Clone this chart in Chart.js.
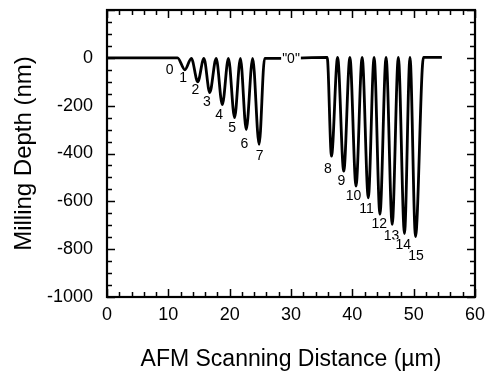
<!DOCTYPE html>
<html>
<head>
<meta charset="utf-8">
<script src="https://cdn.jsdelivr.net/npm/chart.js@4/dist/chart.umd.min.js"></script>
<style>
  html, body { margin: 0; padding: 0; background: #fff; }
  #wrap { width: 492px; height: 373px; }
</style>
</head>
<body>
<div id="wrap"><canvas id="c"></canvas></div>
<script>
// AFM profile (µm, nm)
const distance = [0, 11.5, 12.7, 13.75, 14.8, 15.8, 16.75, 17.8, 18.8, 19.8, 20.8, 21.75, 22.7, 23.75, 24.8, 25.7,
  28.5, 35.9, 36.6, 37.6, 38.6, 39.6, 40.6, 41.6, 42.6, 43.55, 44.5, 45.5, 46.5, 47.5, 48.5, 49.4, 50.3, 51.6, 54.6];
const depth = [0, 0, -50, -2, -100, -2, -145, -2, -196, -2, -250, -2, -300, -2, -362, -2,
  -2, 2, -411, 2, -474, 2, -536, 2, -585, 2, -654, 2, -696, 2, -735, 2, -747, 2, 2];

// dose labels next to each trench
const labelText = ['0', '1', '2', '3', '4', '5', '6', '7', '"0"', '8', '9', '10', '11', '12', '13', '14', '15'];
const labelX = [10.2, 12.4, 14.4, 16.3, 18.3, 20.4, 22.4, 24.9, 30.0, 36.0, 38.2, 40.2, 42.3, 44.4, 46.4, 48.3, 50.4];
const labelY = [-50, -85, -133, -186, -240, -293, -362, -411, -5, -467, -515, -578, -633, -696, -745, -783, -828];

const xTicks = [0, 10, 20, 30, 40, 50, 60];
const yTicks = [-1000, -800, -600, -400, -200, 0];

const FONT = '"Liberation Sans", Arial, Helvetica, sans-serif';

const points = distance.map((d, i) => ({ x: d, y: depth[i] }));

// frame with inward ticks on all four sides, plus the trench labels
const framePlugin = {
  id: 'frame',
  afterDatasetsDraw(chart) {
    const { ctx, chartArea: a, scales: { x, y } } = chart;
    ctx.save();
    ctx.strokeStyle = '#000';
    ctx.lineWidth = 1.5;
    ctx.beginPath();
    for (let v = 0; v <= 60; v += 2) {
      const px = Math.round(x.getPixelForValue(v)) + 0.5;
      const len = v % 10 === 0 ? 8 : 5;
      ctx.moveTo(px, a.bottom); ctx.lineTo(px, a.bottom - len);
      ctx.moveTo(px, a.top); ctx.lineTo(px, a.top + len);
    }
    for (let v = -1000; v <= 200; v += 50) {
      const py = Math.round(y.getPixelForValue(v)) + 0.5;
      const len = v % 200 === 0 ? 8 : 5;
      ctx.moveTo(a.left, py); ctx.lineTo(a.left + len, py);
      ctx.moveTo(a.right, py); ctx.lineTo(a.right - len, py);
    }
    ctx.stroke();
    ctx.lineWidth = 2.2;
    ctx.strokeRect(a.left, a.top, a.right - a.left, a.bottom - a.top);

    ctx.font = '14px ' + FONT;
    ctx.textAlign = 'center';
    ctx.textBaseline = 'middle';
    labelText.forEach((t, i) => {
      const px = x.getPixelForValue(labelX[i]);
      const py = y.getPixelForValue(labelY[i]);
      const w = ctx.measureText(t).width;
      ctx.fillStyle = '#fff';
      ctx.fillRect(px - w / 2 - 1, py - 6, w + 2, 12);
      ctx.fillStyle = '#000';
      ctx.fillText(t, px, py);
    });
    ctx.restore();
  }
};

new Chart(document.getElementById('c'), {
  type: 'line',
  data: {
    datasets: [{
      data: points,
      borderColor: '#000',
      borderWidth: 2.8,
      pointRadius: 0,
      fill: false,
      cubicInterpolationMode: 'monotone'
    }]
  },
  options: {
    responsive: true,
    maintainAspectRatio: false,
    animation: false,
    layout: { padding: { top: 10, right: 17, left: 0, bottom: 0 } },
    plugins: { legend: { display: false }, tooltip: { enabled: false } },
    scales: {
      x: {
        type: 'linear',
        min: 0,
        max: 60,
        afterBuildTicks: (s) => { s.ticks = xTicks.map(v => ({ value: v })); },
        afterFit: (s) => { s.height = 76; s.paddingLeft = 0; s.paddingRight = 0; },
        grid: { display: false, drawTicks: false },
        border: { display: false },
        ticks: { color: '#000', font: { family: FONT, size: 18 }, padding: 7, maxRotation: 0,
          callback: (v) => String(v) },
        title: {
          display: true,
          text: 'AFM Scanning Distance (µm)',
          color: '#000',
          font: { family: FONT, size: 23 },
          padding: { top: 12, bottom: 0 }
        }
      },
      y: {
        min: -1000,
        max: 200,
        afterBuildTicks: (s) => { s.ticks = yTicks.map(v => ({ value: v })); },
        afterFit: (s) => { s.width = 107; s.paddingTop = 0; s.paddingBottom = 0; },
        grid: { display: false, drawTicks: false },
        border: { display: false },
        ticks: { color: '#000', font: { family: FONT, size: 18 }, padding: 14,
          callback: (v) => String(v) },
        title: {
          display: true,
          text: 'Milling Depth (nm)',
          color: '#000',
          font: { family: FONT, size: 24 },
          padding: { top: 10, bottom: 0 }
        }
      }
    }
  },
  plugins: [framePlugin]
});
</script>
</body>
</html>
